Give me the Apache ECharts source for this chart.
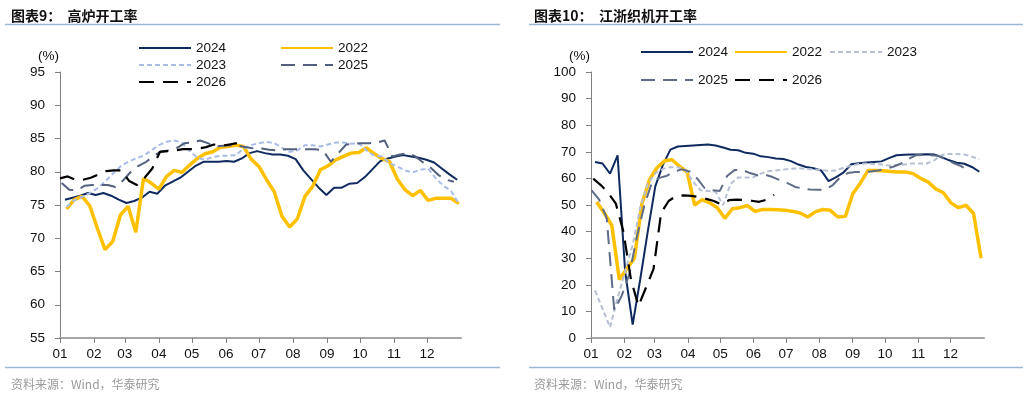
<!DOCTYPE html>
<html>
<head>
<meta charset="utf-8">
<title>高炉开工率 / 江浙织机开工率</title>
<script src="https://cdn.jsdelivr.net/npm/echarts@6/dist/echarts.min.js"></script>
<style>
    html, body { margin: 0; padding: 0; background: #fff; }
    #main { width: 1029px; height: 393px; }
</style>
</head>
<body>
<div id="main"></div>
<script>
// 月份刻度（一年中的第几天）
var monthStarts = [0, 31, 59, 90, 120, 151, 181, 212, 243, 273, 304, 334];
var monthLabels = ['01', '02', '03', '04', '05', '06', '07', '08', '09', '10', '11', '12'];

var seriesNames = ['2024', '2022', '2023', '2025', '2026'];

/* 高炉开工率（%），周度 */
var bfStart = { '2024': 4.5, '2022': 6, '2023': 6, '2025': 1.5, '2026': 0 };
var bf2024 = [75.8, 76.1, 76.4, 76.8, 76.5, 76.8, 76.4, 75.8, 75.3, 75.6, 76.1, 77.0, 76.7, 77.9, 78.5, 79.1,
    80.0, 80.9, 81.5, 81.5, 81.5, 81.6, 81.5, 82.0, 82.8, 83.1, 82.8, 82.6, 82.6, 82.4, 81.9, 80.2,
    78.9, 77.6, 76.5, 77.6, 77.6, 78.2, 78.3, 79.2, 80.4, 81.6, 82.0, 82.3, 82.5, 82.3, 82.1, 81.8,
    81.4, 80.5, 79.6, 78.8];
var bf2022 = [74.4, 75.8, 76.3, 74.9, 71.5, 68.3, 69.5, 73.5, 74.8, 70.9, 79.0, 78.3, 77.4, 79.3, 80.2, 79.9,
    81.0, 82.0, 82.7, 83.0, 83.7, 83.8, 84.0, 83.8, 81.9, 80.8, 78.8, 77.0, 73.3, 71.7, 72.9, 76.3,
    77.8, 80.3, 80.9, 81.8, 82.3, 82.8, 82.9, 83.6, 82.7, 82.0, 81.5, 78.9, 77.3, 76.4, 77.2, 75.7,
    76.0, 76.0, 76.0, 75.2];
var bf2023 = [74.7, 75.7, 76.2, 76.8, 77.5, 78.5, 79.7, 80.8, 81.5, 82.0, 82.4, 83.2, 84.0, 84.5, 84.7, 84.4,
    83.1, 82.1, 81.8, 82.2, 82.4, 82.4, 82.5, 83.5, 84.0, 84.3, 84.5, 84.3, 83.6, 83.0, 83.2, 84.0,
    84.0, 83.8, 84.1, 84.4, 84.4, 84.2, 84.3, 83.2, 82.4, 82.3, 81.3, 80.8, 80.2, 79.9, 80.3, 80.5,
    79.0, 77.9, 77.1, 75.2];
var bf2025 = [78.3, 77.3, 77.2, 77.9, 78.0, 78.0, 78.0, 77.7, 78.7, 80.0, 80.9, 81.5, 82.4, 83.1, 83.2, 83.6,
    84.3, 84.4, 84.7, 84.3, 83.8, 83.9, 84.0, 83.9, 83.7, 83.5, 83.5, 83.3, 83.2, 83.4, 83.4, 83.4,
    83.4, 83.4, 83.2, 81.5, 82.8, 84.1, 84.2, 84.3, 84.3, 84.4, 84.7, 82.3, 82.6, 82.8, 82.3, 81.4,
    80.6, 79.5, 78.8, 78.5];
var bf2026 = [79.0, 79.3, 78.8, 78.8, 79.1, 79.6, 80.1, 80.2, 80.2, 78.6, 78.0, 79.1, 80.5, 83.0, 83.1, 83.2,
    83.4, 83.4, 83.5, 83.7, 84.1, 83.9, 84.1, 84.3];

/* 江浙织机开工率（%），周度 */
var wvStart = { '2024': 3.7, '2022': 5.3, '2023': 3.7, '2025': 0.6, '2026': 2.1 };
var wv2024 = [66.2, 65.6, 61.8, 68.7, 25.0, 5.0, 22.0, 40.0, 57.0, 65.0, 70.8, 72.0, 72.2, 72.4, 72.6, 72.7,
    72.4, 71.6, 70.8, 70.6, 69.6, 69.3, 68.3, 68.0, 67.5, 67.3, 66.5, 65.2, 64.3, 63.8, 63.0, 59.0,
    60.5, 62.3, 65.3, 65.7, 66.0, 66.2, 66.4, 67.6, 68.7, 68.9, 69.0, 69.0, 69.1, 69.0, 68.0, 66.8,
    65.9, 65.5, 64.3, 62.5];
var wv2022 = [51.1, 47.0, 42.4, 22.0, 26.0, 30.0, 50.5, 59.5, 64.0, 66.6, 67.0, 64.5, 62.4, 50.0, 52.0, 50.8,
    49.0, 45.0, 48.6, 49.0, 49.8, 47.6, 48.3, 48.3, 48.2, 48.0, 47.6, 47.0, 45.5, 47.4, 48.3, 48.0,
    45.5, 45.8, 54.3, 58.3, 63.0, 63.0, 62.9, 62.6, 62.4, 62.4, 61.8, 60.0, 58.6, 56.0, 54.6, 50.8,
    49.0, 49.9, 46.8, 30.0];
var wv2023 = [17.9, 11.0, 4.0, 15.0, 25.0, 35.0, 49.0, 58.0, 62.0, 63.5, 64.2, 64.2, 63.2, 58.8, 55.5, 55.3,
    55.0, 50.0, 58.0, 60.3, 60.3, 60.4, 61.8, 62.7, 63.0, 63.3, 63.6, 63.8, 63.6, 63.4, 63.2, 62.8,
    63.0, 64.0, 64.8, 65.4, 65.6, 65.4, 65.2, 64.8, 65.0, 65.2, 65.6, 65.6, 65.6, 66.8, 68.8, 69.2,
    69.2, 69.0, 68.2, 67.2];
var wv2025 = [55.5, 52.0, 45.0, 10.4, 16.0, 24.0, 38.0, 50.0, 58.5, 60.2, 61.0, 62.6, 63.4, 62.6, 60.0, 56.3,
    55.6, 55.3, 61.0, 63.2, 63.2, 62.0, 61.2, 61.4, 60.5, 59.3, 58.2, 56.8, 56.2, 55.8, 55.7, 55.8,
    57.5, 60.5, 62.0, 62.4, 62.4, 62.6, 63.0, 63.6, 64.4, 65.5, 67.2, 68.7, 68.8, 68.7, 68.5, 67.0,
    65.8, 64.6, 63.0];
var wv2026 = [59.9, 57.5, 54.5, 50.5, 40.0, 22.0, 12.0, 19.0, 26.0, 47.0, 51.5, 53.4, 53.6, 53.4, 53.0, 52.3,
    51.5, 50.2, 51.8, 52.0, 51.9, 51.6, 51.2, 52.0, 53.8];

var bfData = { '2024': bf2024, '2022': bf2022, '2023': bf2023, '2025': bf2025, '2026': bf2026 };
var wvData = { '2024': wv2024, '2022': wv2022, '2023': wv2023, '2025': wv2025, '2026': wv2026 };

// 各年份线型
var lineStyles = {
    '2024': { color: '#0F2A5F', width: 2, type: 'solid' },
    '2022': { color: '#FFC000', width: 3.5, type: 'solid' },
    '2023': { color: '#A9BCE6', width: 2, type: [5, 3] },
    '2025': { color: '#52607E', width: 2, type: [14, 8] },
    '2026': { color: '#000000', width: 2.2, type: [15, 9] }
};
var lineStylesRight = {
    '2023': { color: '#B6C0D2', width: 2, type: [5, 3] },
    '2025': { color: '#5F6C88', width: 2, type: [14, 8] }
};

var FONT = '"Liberation Sans", Arial, sans-serif';
var CJK = '"Noto Sans CJK SC", sans-serif';

function weekly(values, start) {
    return values.map(function (v, i) { return [start + 7 * i, v]; });
}

var series = [];
seriesNames.forEach(function (name) {
    var ls = lineStyles[name];
    series.push({
        name: name, type: 'line', xAxisIndex: 0, yAxisIndex: 0,
        symbol: 'none', animation: false,
        itemStyle: { color: ls.color },
        lineStyle: ls,
        data: weekly(bfData[name], bfStart[name])
    });
});
seriesNames.forEach(function (name) {
    var ls = lineStylesRight[name] || lineStyles[name];
    series.push({
        name: name + ' ', type: 'line', xAxisIndex: 1, yAxisIndex: 1,
        symbol: 'none', animation: false,
        itemStyle: { color: ls.color },
        lineStyle: ls,
        data: weekly(wvData[name], wvStart[name])
    });
});

function xAxis(gridIndex) {
    return {
        type: 'value', gridIndex: gridIndex, min: 0, max: 365,
        axisLine: { lineStyle: { color: '#A6A6A6', width: 2 } },
        axisTick: { show: true, customValues: monthStarts, length: 5, lineStyle: { color: '#808080' } },
        axisLabel: {
            customValues: monthStarts, margin: 9, color: '#111',
            fontFamily: FONT, fontSize: 13.5,
            formatter: function (v) { return monthLabels[monthStarts.indexOf(v)]; }
        },
        splitLine: { show: false }
    };
}
function yAxis(gridIndex, min, max, interval) {
    return {
        type: 'value', gridIndex: gridIndex, min: min, max: max, interval: interval,
        name: '(%)', nameLocation: 'end', nameGap: 9,
        nameTextStyle: { fontFamily: FONT, fontSize: 13.5, color: '#111', align: 'right', padding: [0, 1, 0, 0] },
        axisLine: { show: true, lineStyle: { color: '#808080', width: 1 } },
        axisTick: { show: true, inside: false, length: 5, lineStyle: { color: '#808080' } },
        axisLabel: { margin: 15, color: '#111', fontFamily: FONT, fontSize: 13.5 },
        splitLine: { show: false }
    };
}

// 图例：每一项单独摆放，只画线不画点
function legendItem(name, left, cy) {
    return {
        data: [name], left: left, top: cy - 7, padding: 0,
        itemWidth: 52, itemHeight: 14, itemGap: 5,
        itemStyle: { opacity: 0 },
        textStyle: { fontFamily: FONT, fontSize: 13.5, color: '#111', padding: [0, 0, 0, 0] },
        selectedMode: false
    };
}

var chart = echarts.init(document.getElementById('main'), null, { renderer: 'canvas' });
chart.setOption({
    backgroundColor: '#fff',
    animation: false,
    title: [
        { text: '图表9：  高炉开工率', left: 6, top: 4, textStyle: { fontFamily: CJK, fontSize: 14, fontWeight: 'bold', color: '#111' } },
        { text: '图表10：  江浙织机开工率', left: 529, top: 4, textStyle: { fontFamily: CJK, fontSize: 14, fontWeight: 'bold', color: '#111' } },
        { text: '资料来源：Wind，华泰研究', left: 6, top: 373, textStyle: { fontFamily: CJK, fontSize: 12, fontWeight: 'normal', color: '#9a9a9a' } },
        { text: '资料来源：Wind，华泰研究', left: 529, top: 373, textStyle: { fontFamily: CJK, fontSize: 12, fontWeight: 'normal', color: '#9a9a9a' } }
    ],
    graphic: [
        { type: 'line', shape: { x1: 5, y1: 24.5, x2: 500, y2: 24.5 }, style: { stroke: '#9DB6D6', lineWidth: 1.5 } },
        { type: 'line', shape: { x1: 529, y1: 24.5, x2: 1023, y2: 24.5 }, style: { stroke: '#9DB6D6', lineWidth: 1.5 } },
        { type: 'line', shape: { x1: 5, y1: 367.5, x2: 500, y2: 367.5 }, style: { stroke: '#9DB6D6', lineWidth: 1.5 } },
        { type: 'line', shape: { x1: 529, y1: 367.5, x2: 1023, y2: 367.5 }, style: { stroke: '#9DB6D6', lineWidth: 1.5 } }
    ],
    legend: [
        legendItem('2024', 138, 48),
        legendItem('2022', 280, 48),
        legendItem('2023', 138, 65),
        legendItem('2025', 280, 65),
        legendItem('2026', 138, 82),
        legendItem('2024 ', 640, 52),
        legendItem('2022 ', 734, 52),
        legendItem('2023 ', 829, 52),
        legendItem('2025 ', 640, 80),
        legendItem('2026 ', 734, 80)
    ],
    grid: [
        { left: 60, top: 72, width: 401, height: 266 },
        { left: 591, top: 72, width: 393, height: 266 }
    ],
    xAxis: [xAxis(0), xAxis(1)],
    yAxis: [yAxis(0, 55, 95, 5), yAxis(1, 0, 100, 10)],
    series: series
});
</script>
</body>
</html>
